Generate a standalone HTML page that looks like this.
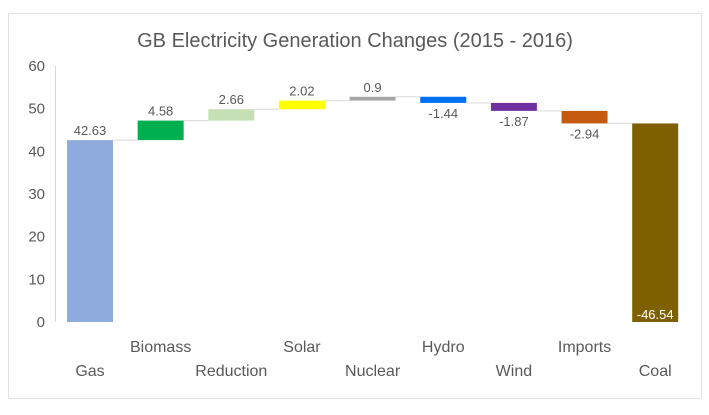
<!DOCTYPE html>
<html><head><meta charset="utf-8"><style>
body{margin:0;background:#fff;width:709px;height:410px;overflow:hidden}
svg{font-family:"Liberation Sans",sans-serif}
</style></head><body>
<svg id="c" width="709" height="410">
<rect x="8.5" y="13.5" width="693" height="385" fill="#fff" stroke="#e2e2e2"/>
<text x="355" y="47" text-anchor="middle" font-size="20" fill="#595959">GB Electricity Generation Changes (2015 - 2016)</text>
<line x1="55.5" y1="66" x2="55.5" y2="322" stroke="#d9d9d9"/>
<g id="g"></g>
</svg>
<script>
const categories=["Gas","Biomass","Reduction","Solar","Nuclear","Hydro","Wind","Imports","Coal"];
const changes=[42.63,4.58,2.66,2.02,0.9,-1.44,-1.87,-2.94,-46.54];
const labels=["42.63","4.58","2.66","2.02","0.9","-1.44","-1.87","-2.94","-46.54"];
const colors=["#8faadc","#00b050","#c5e0b4","#ffff00","#a6a6a6","#0070f0","#7030a0","#c55a11","#7f6000"];
const yTicks=[0,10,20,30,40,50,60];
const NS="http://www.w3.org/2000/svg",g=document.getElementById('g');
const y=v=>322-v*256/60, x=i=>67+i*70.65, bw=46;
function mk(t,a){const e=document.createElementNS(NS,t);for(const k in a)e.setAttribute(k,a[k]);g.appendChild(e);return e;}
yTicks.forEach(t=>{const e=mk('text',{x:45,y:y(t)+5,'text-anchor':'end','font-size':15,fill:'#595959'});e.textContent=t;

});
let cum=0;
changes.forEach((c,i)=>{
 const last=i===changes.length-1;
 let a=cum,b=cum+c;
 const top=y(Math.max(a,b)),bot=y(Math.min(a,b));
 const r=mk('rect',{x:x(i),y:top,width:bw,height:Math.max(bot-top,1),fill:colors[i]});
 
 
 if(!last){const l=mk('line',{x1:x(i)+bw,x2:x(i+1),y1:y(b),y2:y(b),stroke:'#d9d9d9'});
 
 }
 let ty,fill='#595959';
 if(last){ty=bot-3;fill='#fff';}else if(c>=0)ty=top-5;else ty=bot+15;
 const t=mk('text',{x:x(i)+bw/2,y:ty,'text-anchor':'middle','font-size':13,fill:fill});t.textContent=labels[i];
 
 
 const ct=mk('text',{x:x(i)+bw/2,y:i%2?352:376,'text-anchor':'middle','font-size':16,fill:'#595959'});ct.textContent=categories[i];
 
 
 cum=b;
});
</script>
</body></html>
